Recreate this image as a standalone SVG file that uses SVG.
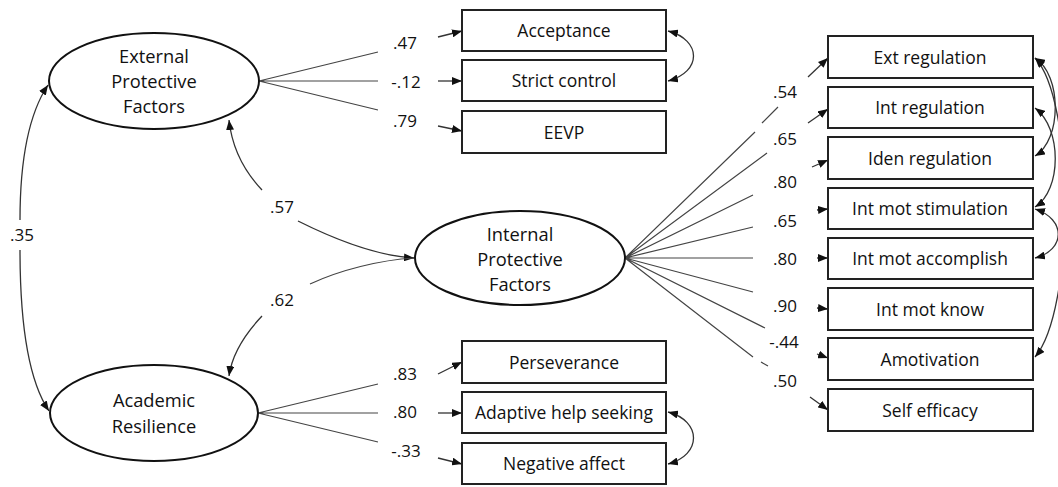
<svg xmlns="http://www.w3.org/2000/svg" width="1058" height="487" viewBox="0 0 1058 487">
<style>
.box{fill:#fff;stroke:#222;stroke-width:2}
.ell{fill:#fff;stroke:#111;stroke-width:2}
.bt{font-family:"Open Sans","Liberation Sans",sans-serif;font-size:17.5px;fill:#111;text-anchor:middle}
.et{font-family:"Open Sans","Liberation Sans",sans-serif;font-size:18.3px;fill:#111;text-anchor:middle}
.lb{font-family:"Open Sans","Liberation Sans",sans-serif;font-size:17px;fill:#111;text-anchor:middle}
.ln{fill:none;stroke:#444;stroke-width:1.2}
.ar{fill:none;stroke:#333;stroke-width:1.3;marker-end:url(#ah)}
.cv{fill:none;stroke:#333;stroke-width:1.3;marker-start:url(#ah);marker-end:url(#ah)}
</style>
<defs>
<marker id="ah" markerUnits="userSpaceOnUse" markerWidth="11" markerHeight="8" refX="10" refY="4" orient="auto-start-reverse"><path d="M0,0 L10,4 L0,8 z" fill="#111"/></marker>
</defs>
<rect width="1058" height="487" fill="#fff"/>
<g id="connectors">
<path class="ln" d="M259,81 L378,52 M259,81 L378,81 M259,81 L378,110"/>
<path class="ln" d="M258,413 L378,384 M258,413 L378,413 M258,413 L378,442"/>
<path class="ar" d="M438,37 L462,31"/>
<path class="ar" d="M438,81 L462,81"/>
<path class="ar" d="M438,126 L462,131"/>
<path class="ar" d="M438,374 L462,362"/>
<path class="ar" d="M438,413 L462,413"/>
<path class="ar" d="M438,458 L462,464"/>
<path class="cv" d="M668,31 C702,40 702,72 668,81"/>
<path class="cv" d="M668,412 C702,421 702,455 668,464"/>
<path class="ar" d="M20,220 C20,160 28,115 48,85"/>
<path class="ar" d="M20,250 C20,320 28,380 49,411"/>
<path class="ar" d="M262,190 C245,172 232,148 229,120"/>
<path class="ar" d="M298,221 C340,242 380,256 414,258"/>
<path class="ln" d="M310,284 C340,270 380,260 414,258"/>
<path class="ar" d="M262,316 C245,334 232,354 229,376"/>
<path class="ln" d="M625,258 L755,132 M762,123 L778,107 M625,258 L767,153 M625,258 L753,195 M625,258 L753,227 M625,258 L753,258 M625,258 L753,292 M625,258 L765,328 M625,258 L753,357 M761,362 L768,366"/>
<path class="ar" d="M808,77 L828,58"/>
<path class="ar" d="M808,123 L828,109"/>
<path class="ar" d="M812,167 L828,160"/>
<path class="ar" d="M817,210 L828,209"/>
<path class="ar" d="M817,258 L828,258"/>
<path class="ar" d="M817,308 L828,309"/>
<path class="ar" d="M817,354 L828,358"/>
<path class="ar" d="M810,397 L828,410"/>
<path class="cv" d="M1035,58 C1062,75 1062,140 1035,156"/>
<path class="cv" d="M1035,58 C1075,100 1075,310 1035,357"/>
<path class="cv" d="M1035,108 C1062,128 1062,190 1035,207"/>
<path class="cv" d="M1035,209 C1066,219 1066,250 1035,258"/>
<text class="lb" x="405" y="49">.47</text>
<text class="lb" x="406" y="88">-.12</text>
<text class="lb" x="405" y="127">.79</text>
<text class="lb" x="405" y="380">.83</text>
<text class="lb" x="405" y="418">.80</text>
<text class="lb" x="406" y="457">-.33</text>
<text class="lb" x="22" y="241">.35</text>
<text class="lb" x="282" y="213">.57</text>
<text class="lb" x="282" y="306">.62</text>
<text class="lb" x="785" y="98">.54</text>
<text class="lb" x="785" y="145">.65</text>
<text class="lb" x="785" y="188">.80</text>
<text class="lb" x="785" y="227">.65</text>
<text class="lb" x="785" y="265">.80</text>
<text class="lb" x="785" y="312">.90</text>
<text class="lb" x="784" y="348">-.44</text>
<text class="lb" x="785" y="387">.50</text>
</g>
<g id="ext"><ellipse class="ell" cx="154" cy="81" rx="105" ry="48"/><text class="et" x="154" y="63">External</text><text class="et" x="154" y="88">Protective</text><text class="et" x="154" y="113">Factors</text></g>
<g id="acad"><ellipse class="ell" cx="154" cy="413" rx="104" ry="48"/><text class="et" x="154" y="407">Academic</text><text class="et" x="154" y="433">Resilience</text></g>
<g id="int"><ellipse class="ell" cx="520" cy="258" rx="105" ry="47"/><text class="et" x="520" y="241">Internal</text><text class="et" x="520" y="266">Protective</text><text class="et" x="520" y="291">Factors</text></g>
<g id="acceptance"><rect class="box" x="462" y="10" width="204" height="41"/><text class="bt" x="564" y="36.5">Acceptance</text></g>
<g id="strict"><rect class="box" x="462" y="60" width="204" height="41"/><text class="bt" x="564" y="86.5">Strict control</text></g>
<g id="eevp"><rect class="box" x="462" y="111" width="204" height="42"/><text class="bt" x="564" y="138.5">EEVP</text></g>
<g id="persev"><rect class="box" x="462" y="341" width="204" height="42"/><text class="bt" x="564" y="368.5">Perseverance</text></g>
<g id="adaptive"><rect class="box" x="462" y="392" width="204" height="41"/><text class="bt" x="564" y="418.5">Adaptive help seeking</text></g>
<g id="negative"><rect class="box" x="462" y="443" width="204" height="41"/><text class="bt" x="564" y="469.5">Negative affect</text></g>
<g id="extreg"><rect class="box" x="828" y="36" width="205" height="42"/><text class="bt" x="930" y="63.5">Ext regulation</text></g>
<g id="intreg"><rect class="box" x="828" y="87" width="205" height="41"/><text class="bt" x="930" y="113.5">Int regulation</text></g>
<g id="idenreg"><rect class="box" x="828" y="137" width="205" height="42"/><text class="bt" x="930" y="164.5">Iden regulation</text></g>
<g id="stim"><rect class="box" x="828" y="188" width="205" height="41"/><text class="bt" x="930" y="214.5">Int mot stimulation</text></g>
<g id="accomp"><rect class="box" x="828" y="238" width="205" height="41"/><text class="bt" x="930" y="264.5">Int mot accomplish</text></g>
<g id="know"><rect class="box" x="828" y="288" width="205" height="42"/><text class="bt" x="930" y="315.5">Int mot know</text></g>
<g id="amot"><rect class="box" x="828" y="338" width="205" height="42"/><text class="bt" x="930" y="365.5">Amotivation</text></g>
<g id="selfeff"><rect class="box" x="828" y="389" width="205" height="42"/><text class="bt" x="930" y="416.5">Self efficacy</text></g>
</svg>
